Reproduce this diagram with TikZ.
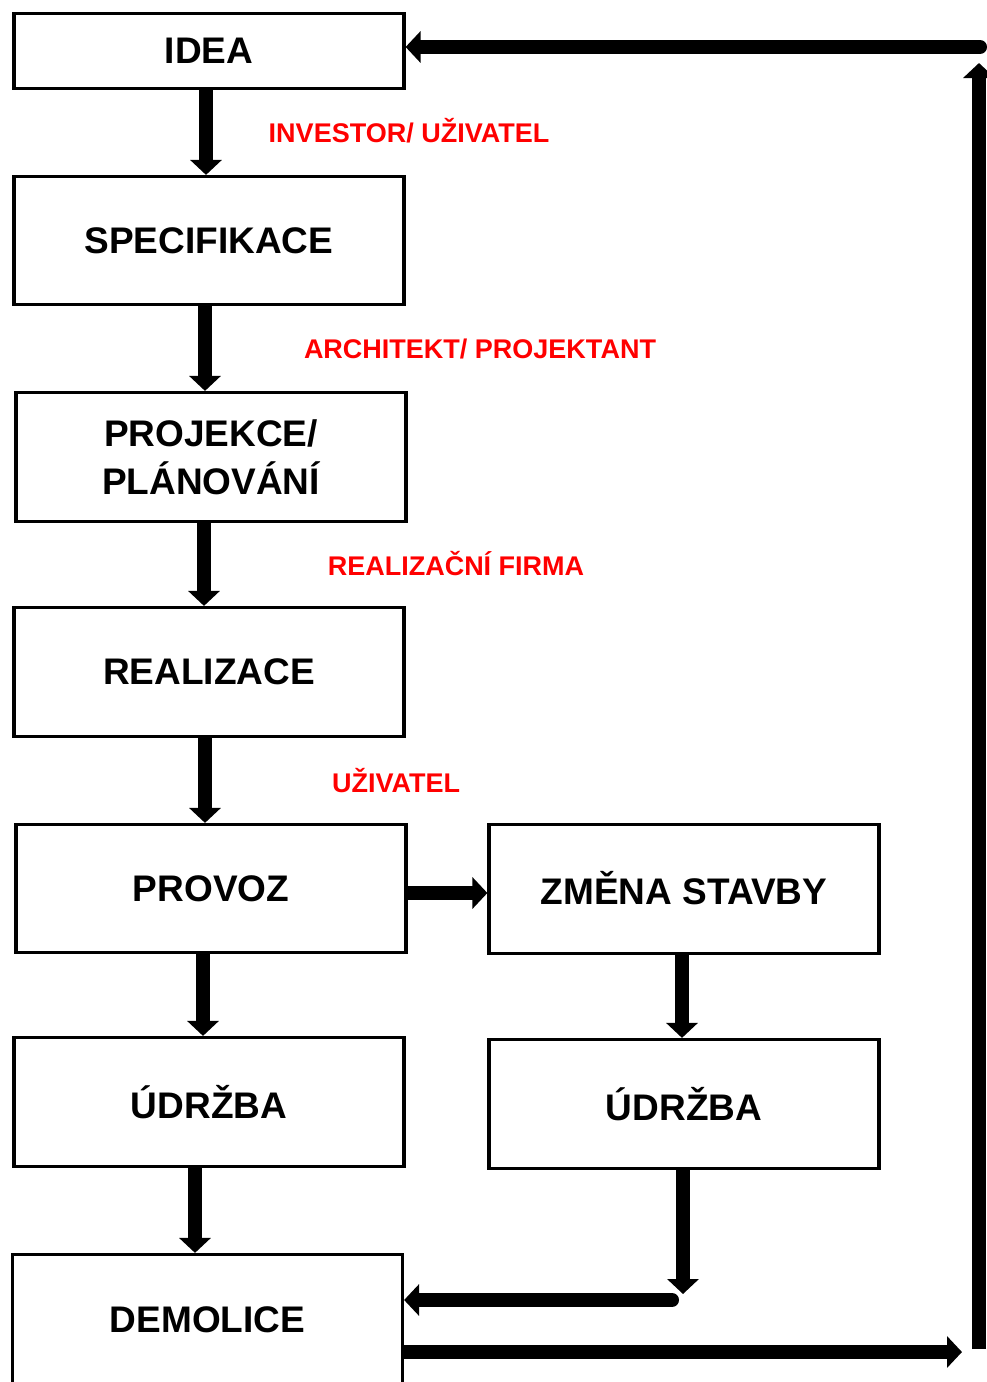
\documentclass[tikz,border=0pt]{standalone}
\usepackage{fontspec}
\setmainfont{Liberation Sans}
\usetikzlibrary{arrows.meta}
\tikzset{
  box/.style={draw, line width=3.2pt, minimum width=390pt, inner sep=0pt, font=\fontsize{37}{48}\selectfont\bfseries, align=center},
  flow/.style={line width=14pt, -{Triangle[width=31pt,length=15pt]}},
  lbl/.style={text=red, font=\fontsize{27}{30}\selectfont\bfseries, inner sep=0pt}
}
\begin{document}
\begin{tikzpicture}[x=1pt,y=-1pt]
\clip (0,0) rectangle (987,1382);
\node[box, minimum height=75pt] (idea) at (209,51) {IDEA};
\node[box, minimum height=128pt] (spec) at (209,240.5) {SPECIFIKACE};
\node[box, minimum height=129pt] (proj) at (211,457) {PROJEKCE/\\PLÁNOVÁNÍ};
\node[box, minimum height=129pt] (real) at (209,672) {REALIZACE};
\node[box, minimum height=128pt] (prov) at (211,888.5) {PROVOZ};
\node[box, minimum height=129pt] (zmena) at (684,889) {\raisebox{3pt}{ZMĚNA STAVBY}};
\node[box, minimum height=129pt] (ud1) at (209,1102) {ÚDRŽBA};
\node[box, minimum height=129pt] (ud2) at (684,1104) {ÚDRŽBA};
\node[box, minimum height=131pt] (dem) at (207.5,1320) {DEMOLICE};

\node[lbl] (l1) at (409,131) {INVESTOR/ UŽIVATEL};
\node[lbl] (l2) at (480,349) {ARCHITEKT/ PROJEKTANT};
\node[lbl] (l3) at (456,564) {REALIZAČNÍ FIRMA};
\node[lbl] (l4) at (396,781) {UŽIVATEL};

\draw[flow] ([xshift=-3pt]idea.south) -- ([xshift=-3pt]idea.south |- spec.north);
\draw[flow] ([xshift=-4pt]spec.south) -- ([xshift=-4pt]spec.south |- proj.north);
\draw[flow] ([xshift=-7pt]proj.south) -- ([xshift=-7pt]proj.south |- real.north);
\draw[flow] ([xshift=-4pt]real.south) -- ([xshift=-4pt]real.south |- prov.north);
\draw[flow] ([yshift=-4.5pt]prov.east) -- ([yshift=-4.5pt]prov.east -| zmena.west);
\draw[flow] ([xshift=-8pt]prov.south) -- ([xshift=-8pt]prov.south |- ud1.north);
\draw[flow] ([xshift=-2pt]zmena.south) -- ([xshift=-2pt]zmena.south |- ud2.north);
\draw[flow] ([xshift=-14pt]ud1.south) -- ([xshift=-14pt]ud1.south |- dem.north);

\coordinate (c1) at (683,1294);
\coordinate (c2) at (672,1300);
\coordinate (c3) at (962,1352);
\coordinate (c4) at (979,1349);
\coordinate (c5) at (979,63);
\coordinate (c6) at (980,47);
\draw[flow] ([xshift=-1pt]ud2.south) -- (c1);
\draw[flow, line cap=round] (c2) -- (c2 -| dem.east);
\draw[flow] (c3 -| dem.east) -- (c3);
\draw[flow] (c4) -- (c5);
\draw[flow, line cap=round] (c6) -- (c6 -| idea.east);
\end{tikzpicture}
\end{document}
